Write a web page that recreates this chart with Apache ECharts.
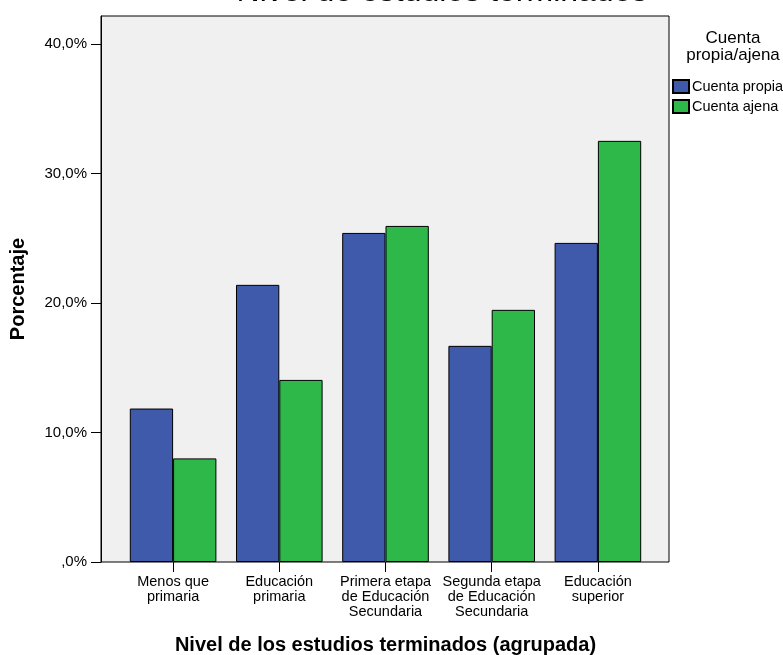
<!DOCTYPE html>
<html>
<head>
<meta charset="utf-8">
<script src="https://cdn.jsdelivr.net/npm/echarts@6/dist/echarts.min.js"></script>
<style>
html,body{margin:0;padding:0;background:#fff;}
#c{width:783px;height:655px;}
</style>
</head>
<body>
<div id="c"></div>
<script>
const categories = ['Menos que\nprimaria', 'Educación\nprimaria', 'Primera etapa\nde Educación\nSecundaria', 'Segunda etapa\nde Educación\nSecundaria', 'Educación\nsuperior'];
const cuentaPropia = [11.85, 21.4, 25.41, 16.69, 24.64];
const cuentaAjena = [8.0, 14.06, 25.95, 19.47, 32.52];
const yTicks = [0, 10, 20, 30, 40];
const yMax = 42.16;

const FONT = '"Liberation Sans", Arial, sans-serif';
const fmt = v => (v === 0 ? ',0%' : v.toFixed(1).replace('.', ',') + '%');

const chart = echarts.init(document.getElementById('c'), null, {renderer: 'canvas'});
chart.setOption({
  animation: false,
  backgroundColor: '#ffffff',
  textStyle: {fontFamily: FONT, color: '#000'},
  title: [
    {text: 'Nivel de estudios terminados', left: 437, textAlign: 'center', top: -29,
     textStyle: {fontFamily: FONT, fontSize: 32, fontWeight: 'normal', color: '#000'}},
    {text: 'Cuenta\npropia/ajena', left: 728, textAlign: 'center', top: 25,
     textStyle: {fontFamily: FONT, fontSize: 17, fontWeight: 'normal', color: '#000', lineHeight: 17}}
  ],
  legend: {
    orient: 'vertical', left: 672, top: 79, padding: 0,
    itemWidth: 16, itemHeight: 13, itemGap: 5,
    icon: 'rect',
    textStyle: {fontFamily: FONT, fontSize: 14.5, color: '#000', padding: [0, 0, 0, -2]},
    data: ['Cuenta propia', 'Cuenta ajena']
  },
  grid: [
    {left: 101, right: 114, top: 16, bottom: 93, show: true, backgroundColor: '#f0f0f0', borderColor: '#000', borderWidth: 1, z: 0,
     containLabel: false, outerBoundsMode: 'none'},
    {left: 120, width: 531, top: 16, bottom: 93, show: false, containLabel: false, outerBoundsMode: 'none'}
  ],
  xAxis: [
    {gridIndex: 0, type: 'value', min: 0, max: 1, show: false},
    {gridIndex: 1, type: 'category', data: categories,
     axisLine: {show: false},
     axisTick: {show: true, alignWithLabel: true, length: 10, lineStyle: {color: '#000', width: 1}},
     axisLabel: {fontFamily: FONT, fontSize: 14.5, color: '#000', margin: 12, lineHeight: 15, interval: 0},
     name: 'Nivel de los estudios terminados (agrupada)', nameLocation: 'middle', nameGap: 73,
     nameTextStyle: {fontFamily: FONT, fontSize: 20, fontWeight: 'bold', color: '#000'}
    }
  ],
  yAxis: [
    {gridIndex: 0, type: 'value', min: 0, max: yMax, interval: 10,
     axisLine: {show: true, lineStyle: {color: '#000', width: 1}},
     axisTick: {show: true, length: 10, lineStyle: {color: '#000'}, customValues: yTicks},
     axisLabel: {fontFamily: FONT, fontSize: 15, color: '#000', margin: 14, formatter: fmt, customValues: yTicks},
     splitLine: {show: false},
     name: 'Porcentaje', nameLocation: 'middle', nameGap: 73,
     nameTextStyle: {fontFamily: FONT, fontSize: 20, fontWeight: 'bold', color: '#000'}
    },
    {gridIndex: 1, type: 'value', min: 0, max: yMax, show: false}
  ],
  series: [
    {name: 'Cuenta propia', type: 'bar', xAxisIndex: 1, yAxisIndex: 1, data: cuentaPropia,
     barWidth: 43.3, barGap: '0%',
     itemStyle: {color: '#3f59ab', borderColor: '#000', borderWidth: 1}},
    {name: 'Cuenta ajena', type: 'bar', xAxisIndex: 1, yAxisIndex: 1, data: cuentaAjena,
     barWidth: 43.3, barGap: '0%',
     itemStyle: {color: '#2fb84a', borderColor: '#000', borderWidth: 1}}
  ]
});
</script>
</body>
</html>
